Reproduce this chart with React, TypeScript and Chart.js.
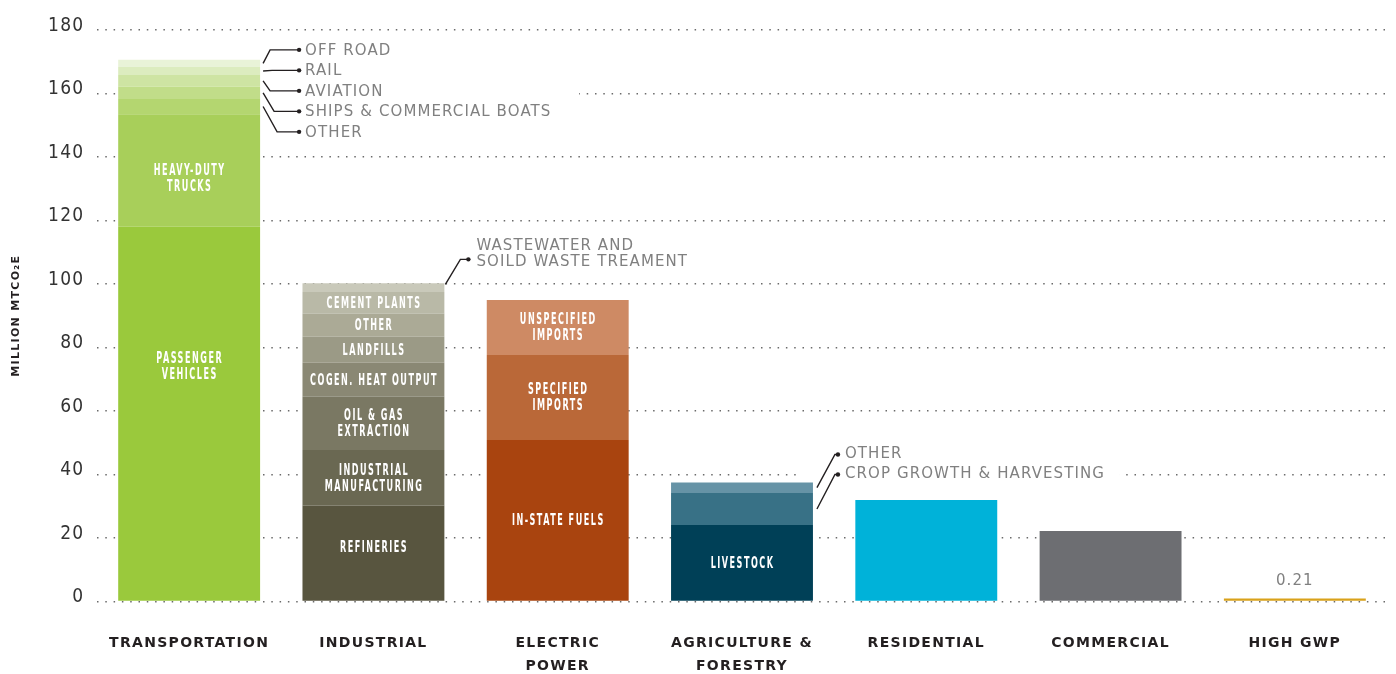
import React, { useEffect, useRef } from 'react';
import { Chart, registerables } from 'chart.js';

Chart.register(...registerables);

// ---------- data ----------
const categories: (string | string[])[] = [
  'TRANSPORTATION',
  'INDUSTRIAL',
  ['ELECTRIC', 'POWER'],
  ['AGRICULTURE &', 'FORESTRY'],
  'RESIDENTIAL',
  'COMMERCIAL',
  'HIGH GWP',
];
const yTickValues = [0, 20, 40, 60, 80, 100, 120, 140, 160, 180];

// segments listed bottom -> top
const transportationParts = ['PASSENGER VEHICLES', 'HEAVY-DUTY TRUCKS', 'OTHER', 'SHIPS & COMMERCIAL BOATS', 'AVIATION', 'RAIL', 'OFF ROAD'];
const transportationValues = [118.0, 35.5, 4.8, 3.8, 3.7, 2.6, 2.2];

const industrialParts = ['REFINERIES', 'INDUSTRIAL MANUFACTURING', 'OIL & GAS EXTRACTION', 'COGEN. HEAT OUTPUT', 'LANDFILLS', 'OTHER', 'CEMENT PLANTS', 'WASTEWATER AND SOILD WASTE TREAMENT'];
const industrialValues = [30.2, 17.5, 16.8, 10.7, 8.2, 7.2, 6.9, 2.7];

const electricParts = ['IN-STATE FUELS', 'SPECIFIED IMPORTS', 'UNSPECIFIED IMPORTS'];
const electricValues = [50.9, 26.7, 17.4];

const agricultureParts = ['LIVESTOCK', 'CROP GROWTH & HARVESTING', 'OTHER'];
const agricultureValues = [24.1, 10.1, 3.3];

const residentialValues = [32.0];
const commercialValues = [22.2];
const highGwpValues = [0.21];

// ---------- styles ----------
const transportationColors = ['#9AC93C', '#A8CF5A', '#B4D670', '#C1DD89', '#CEE4A3', '#DCECBF', '#E9F3D8'];
const industrialColors = ['#58553F', '#6A6852', '#7A7863', '#8A8874', '#9B9A86', '#ABAA96', '#B9B9A7', '#C9C9BA'];
const electricColors = ['#A9440F', '#BA6838', '#CE8A64'];
const agricultureColors = ['#004057', '#387186', '#6693A6'];
const residentialColors = ['#00B2D9'];
const commercialColors = ['#6D6E72'];
const highGwpColors = ['#D9A21B'];

const sectorValues = [transportationValues, industrialValues, electricValues, agricultureValues, residentialValues, commercialValues, highGwpValues];
const sectorColors = [transportationColors, industrialColors, electricColors, agricultureColors, residentialColors, commercialColors, highGwpColors];

// labels written inside the segments: [sector, segment, lines, optional anchor value]
const insideLabels: [number, number, string[], number?][] = [
  [0, 0, ['PASSENGER', 'VEHICLES'], 74],
  [0, 1, ['HEAVY-DUTY', 'TRUCKS'], 133.5],
  [1, 0, ['REFINERIES'], 17.2],
  [1, 1, ['INDUSTRIAL', 'MANUFACTURING']],
  [1, 2, ['OIL & GAS', 'EXTRACTION']],
  [1, 3, ['COGEN. HEAT OUTPUT']],
  [1, 4, ['LANDFILLS']],
  [1, 5, ['OTHER']],
  [1, 6, ['CEMENT PLANTS']],
  [2, 0, ['IN-STATE FUELS']],
  [2, 1, ['SPECIFIED', 'IMPORTS']],
  [2, 2, ['UNSPECIFIED', 'IMPORTS']],
  [3, 0, ['LIVESTOCK']],
];

const maxSegments = Math.max(...sectorValues.map((v) => v.length));

const labelsPlugin = {
  id: 'segmentLabels',
  beforeDraw(chart: any) {
    chart.ctx.letterSpacing = '1.3px';
  },
  beforeDatasetsDraw(chart: any) {
    const ctx = chart.ctx as CanvasRenderingContext2D;
    const t = chart.getDatasetMeta(transportationValues.length - 1).data[0];
    const a = chart.getDatasetMeta(agricultureValues.length - 1).data[3];
    ctx.save();
    ctx.fillStyle = '#ffffff';
    // masks behind callout text
    const tRight = t.x + t.width / 2;
    ctx.fillRect(tRight + 1, t.y - 22, 318, 104);
    const aRight = a.x + a.width / 2;
    ctx.fillRect(aRight - 13, a.y - 40, 320, 36);
    ctx.restore();
  },
  afterDatasetsDraw(chart: any) {
    const ctx = chart.ctx as CanvasRenderingContext2D;
    const yScale = chart.scales.y;
    const seg = (sector: number, k: number) => chart.getDatasetMeta(k).data[sector];

    // inside labels
    insideLabels.forEach(([s, k, lines, at]) => {
      const bar = seg(s, k);
      const cy = at !== undefined ? yScale.getPixelForValue(at) : (bar.y + bar.base) / 2;
      ctx.save();
      ctx.translate(bar.x, cy);
      ctx.scale(0.6, 1);
      ctx.font = 'bold 15px "DejaVu Sans Condensed", "DejaVu Sans", sans-serif';
      ctx.letterSpacing = '2.5px';
      ctx.fillStyle = '#ffffff';
      ctx.textAlign = 'center';
      ctx.textBaseline = 'middle';
      lines.forEach((ln, j) => {
        ctx.fillText(ln, 1, (j - (lines.length - 1) / 2) * 16 + 1);
      });
      ctx.restore();
    });

    ctx.save();
    ctx.strokeStyle = '#231f20';
    ctx.fillStyle = '#231f20';
    ctx.lineWidth = 1.4;
    const dot = (x: number, y: number) => {
      ctx.beginPath();
      ctx.arc(x, y, 2.2, 0, Math.PI * 2);
      ctx.fill();
    };
    const leader = (x0: number, y0: number, x1: number, y1: number, x2: number) => {
      ctx.beginPath();
      ctx.moveTo(x0, y0);
      ctx.lineTo(x1, y1);
      ctx.lineTo(x2, y1);
      ctx.stroke();
      dot(x2, y1);
    };
    const texts: [string, number, number][] = [];

    // transportation callouts (top segment first)
    const tTop = seg(0, transportationValues.length - 1);
    const tRight = tTop.x + tTop.width / 2;
    const bends = [10, 12, 10, 14, 17];
    for (let r = 0; r < 5; r++) {
      const k = transportationValues.length - 1 - r;
      const b = seg(0, k);
      const ty = tTop.y - 10 + r * 20.5;
      leader(tRight + 3, (b.y + b.base) / 2, tRight + bends[r], ty, tRight + 39);
      texts.push([transportationParts[k], tRight + 45, ty]);
    }

    // industrial callout
    const iTop = seg(1, industrialValues.length - 1);
    const iRight = iTop.x + iTop.width / 2;
    leader(iRight + 1, iTop.y + 1, iRight + 16, iTop.y - 24, iRight + 24);
    texts.push(['WASTEWATER AND', iRight + 32, iTop.y - 38]);
    texts.push(['SOILD WASTE TREAMENT', iRight + 32, iTop.y - 22]);

    // agriculture callouts
    const aTop = seg(3, agricultureValues.length - 1);
    const aRight = aTop.x + aTop.width / 2;
    [2, 1].forEach((k, r) => {
      const b = seg(3, k);
      const ty = aTop.y - 29 + r * 20;
      leader(aRight + 4, (b.y + b.base) / 2, aRight + 22, ty + 1, aRight + 25);
      texts.push([agricultureParts[k], aRight + 32, ty]);
    });

    // high GWP value label
    const h = seg(6, 0);

    ctx.font = '15px "DejaVu Sans", sans-serif';
    ctx.letterSpacing = '1.1px';
    ctx.fillStyle = '#808080';
    ctx.textBaseline = 'middle';
    ctx.textAlign = 'left';
    texts.forEach(([s, x, y]) => ctx.fillText(s, x, y + 1));
    ctx.textAlign = 'center';
    ctx.fillText(String(highGwpValues[0]), h.x, yScale.getPixelForValue(0) - 20);
    ctx.restore();
  },
};

export default function App() {
  const ref = useRef<HTMLCanvasElement | null>(null);

  useEffect(() => {
    if (!ref.current) return;
    const datasets = [] as any[];
    for (let k = 0; k < maxSegments; k++) {
      datasets.push({
        data: sectorValues.map((v) => (v[k] !== undefined ? v[k] : null)),
        backgroundColor: sectorColors.map((c) => c[k] || 'transparent'),
        borderWidth: 0,
        barPercentage: 0.77,
        categoryPercentage: 1,
        minBarLength: k === 0 ? 3 : 0,
      });
    }
    const chart = new Chart(ref.current, {
      type: 'bar',
      data: { labels: categories, datasets },
      options: {
        animation: false,
        responsive: false,
        devicePixelRatio: 1,
        layout: { padding: { top: 30, right: 9, left: 0, bottom: 0 } },
        plugins: { legend: { display: false }, tooltip: { enabled: false } },
        scales: {
          x: {
            stacked: true,
            grid: { display: false, drawTicks: false },
            border: { display: false },
            ticks: {
              padding: 31,
              color: '#231f20',
              font: { family: '"DejaVu Sans", sans-serif', size: 14, weight: 'bold', lineHeight: 1.6 },
              maxRotation: 0,
              autoSkip: false,
            },
            afterFit: (s: any) => {
              s.height = 72.5;
            },
          },
          y: {
            stacked: true,
            min: 0,
            max: 180,
            afterBuildTicks: (s: any) => {
              s.ticks = yTickValues.map((v) => ({ value: v }));
            },
            grid: { color: '#6a6a6a', lineWidth: 1.5, drawTicks: false },
            border: { display: false, dash: [1.5, 6.8] },
            ticks: {
              padding: 12.5,
              labelOffset: -4,
              color: '#333333',
              font: { family: '"Liberation Sans Narrow", "DejaVu Sans Condensed", sans-serif', size: 19 },
            },
            title: {
              display: true,
              text: 'MILLION MTCO₂E',
              color: '#231f20',
              font: { family: '"DejaVu Sans", sans-serif', size: 11, weight: 'bold' },
              padding: { top: 10, bottom: 0 },
            },
            afterFit: (s: any) => {
              s.width = 97;
            },
          },
        },
      } as any,
      plugins: [labelsPlugin],
    });
    return () => chart.destroy();
  }, []);

  return (
    <div style={{ position: 'fixed', left: 0, top: 0, width: 1396, height: 674, background: '#ffffff' }}>
      <canvas ref={ref} width={1396} height={674} style={{ display: 'block' }} />
    </div>
  );
}
